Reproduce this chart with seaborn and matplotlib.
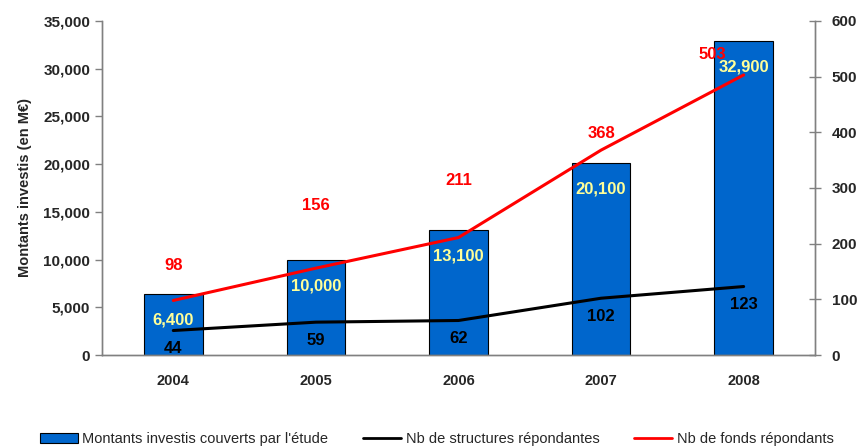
import numpy as np
import pandas as pd
import seaborn as sns
import matplotlib.pyplot as plt
from matplotlib.ticker import FuncFormatter, FixedLocator
from matplotlib.patches import Patch
from matplotlib.lines import Line2D

# données
annees = ['2004', '2005', '2006', '2007', '2008']
montants = [6400, 10000, 13100, 20100, 32900]
nb_structures = [44, 59, 62, 102, 123]
nb_fonds = [98, 156, 211, 368, 503]

# décalages (px) des étiquettes rouges par rapport à la courbe
decal_fonds = [(0, 35), (0, 63), (0, 57), (0, 17), (-31, 20)]

df = pd.DataFrame({'annee': annees, 'montant': montants})

sns.set_style('white')
plt.rcParams['font.family'] = ['Liberation Sans', 'DejaVu Sans']

fig = plt.figure(figsize=(8.6, 4.46), dpi=100)
ax = fig.add_axes([0.1186, 0.204, 0.829, 0.749])

sns.barplot(data=df, x='annee', y='montant', color='#0066CC', saturation=1,
            width=0.41, edgecolor='black', linewidth=0.8, ax=ax)
ax.set_ylim(0, 35000)
ax.set_xlim(-0.5, len(annees) - 0.5)
ax.yaxis.set_major_locator(FixedLocator(np.arange(0, 35001, 5000)))
ax.yaxis.set_major_formatter(FuncFormatter(lambda v, p: f'{int(v):,}'))
ax.set_xlabel('')
ax.set_ylabel('Montants investis (en M€)', fontsize=10.5, fontweight='bold', labelpad=8)

ax2 = ax.twinx()
x = np.arange(len(annees))
sns.lineplot(x=x, y=nb_structures, color='black', linewidth=2.2, ax=ax2)
sns.lineplot(x=x, y=nb_fonds, color='#FF0000', linewidth=2.2, ax=ax2)
ax2.set_ylim(0, 600)
ax2.yaxis.set_major_locator(FixedLocator(np.arange(0, 601, 100)))

# étiquettes
for i, v in enumerate(montants):
    ax.annotate(f'{v:,}', (i, v), xytext=(0, -26), textcoords='offset pixels',
                ha='center', va='center', color='#FFFF99', fontsize=12, fontweight='bold')
for i, v in enumerate(nb_structures):
    ax2.annotate(str(v), (i, v), xytext=(0, -18), textcoords='offset pixels',
                 ha='center', va='center', color='black', fontsize=12, fontweight='bold')
for i, v in enumerate(nb_fonds):
    ax2.annotate(str(v), (i, v), xytext=decal_fonds[i], textcoords='offset pixels',
                 ha='center', va='center', color='#FF0000', fontsize=12, fontweight='bold')

# axes
for a in (ax, ax2):
    a.spines['top'].set_visible(False)
    for s in a.spines.values():
        s.set_color('#808080')
        s.set_linewidth(1)
ax.tick_params(axis='y', direction='out', length=5, color='#808080', labelsize=11, width=1)
ax2.tick_params(axis='y', direction='inout', length=8, color='#808080', labelsize=11, width=1, pad=8)
for lab in ax.get_yticklabels() + ax2.get_yticklabels():
    lab.set_fontweight('bold')
ax.set_xticks(x)
ax.set_xticklabels(annees, fontweight='bold', fontsize=10.5)
ax.tick_params(axis='x', which='major', length=0, pad=14)
ax.set_xticks(np.arange(0.5, len(annees) - 1, 1), minor=True)
ax.tick_params(axis='x', which='minor', direction='out', length=5, color='#808080', width=1)

handles = [Patch(facecolor='#0066CC', edgecolor='black', linewidth=0.8),
           Line2D([0], [0], color='black', lw=2),
           Line2D([0], [0], color='#FF0000', lw=2)]
labels = ["Montants investis couverts par l'étude", 'Nb de structures répondantes',
          'Nb de fonds répondants']
fig.legend(handles, labels, loc='lower center', bbox_to_anchor=(0.508, -0.03), ncol=3,
           frameon=False, handlelength=2.6, handleheight=0.6,
           columnspacing=2.4, handletextpad=0.3,
           prop={'family': ['Liberation Sans Narrow', 'Liberation Sans'], 'size': 10.5})

fig.savefig('out.png', dpi=100)
